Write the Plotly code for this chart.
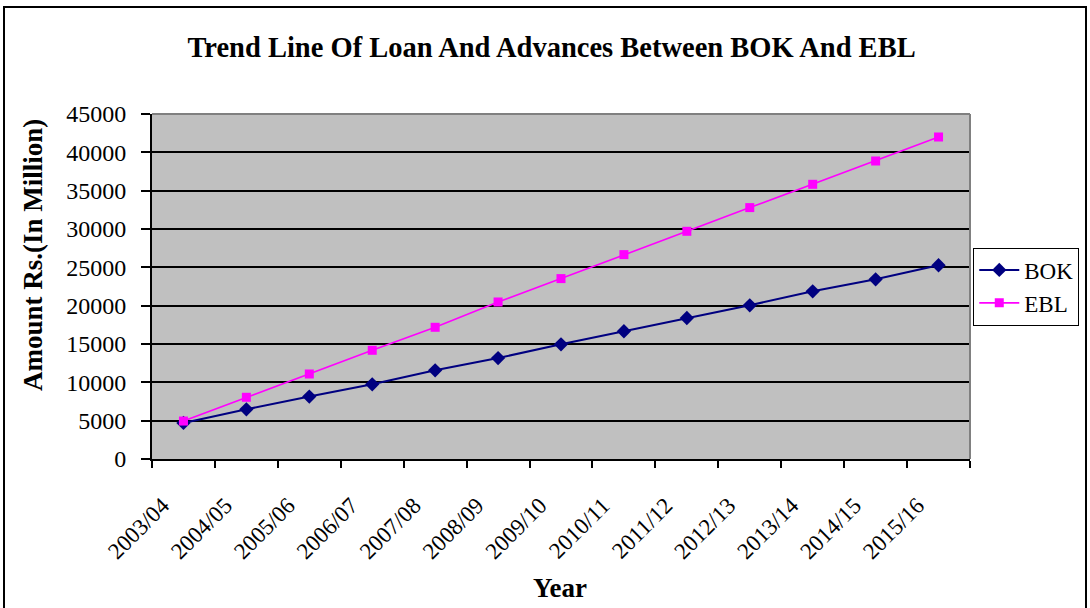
import plotly.graph_objects as go

years = ["2003/04", "2004/05", "2005/06", "2006/07", "2007/08", "2008/09", "2009/10",
         "2010/11", "2011/12", "2012/13", "2013/14", "2014/15", "2015/16"]
bok = [4700, 6480, 8140, 9740, 11570, 13170, 14960, 16660, 18390, 20050, 21870, 23440, 25270]
ebl = [4950, 8050, 11090, 14180, 17180, 20480, 23530, 26660, 29700, 32790, 35830, 38870, 42000]
y_ticks = [0, 5000, 10000, 15000, 20000, 25000, 30000, 35000, 40000, 45000]

FONT = "Liberation Serif, Times New Roman, serif"

# plot-area pixel geometry (used only for placing frame / titles)
L, R, T, B = 152, 970, 114, 459
W, H = R - L, B - T


def px(x):
    return (x - L) / W


def py(y):
    return (B - y) / H


fig = go.Figure()
fig.add_trace(go.Scatter(
    x=years, y=bok, name="BOK", mode="lines+markers",
    line=dict(color="#000080", width=2),
    marker=dict(symbol="diamond", size=11, color="#000080"),
))
fig.add_trace(go.Scatter(
    x=years, y=ebl, name="EBL", mode="lines+markers",
    line=dict(color="#FF00FF", width=1.6),
    marker=dict(symbol="square", size=9, color="#FF00FF"),
))

fig.update_layout(
    width=1090, height=608,
    margin=dict(l=L, r=1090 - R, t=T, b=608 - B, autoexpand=False),
    paper_bgcolor="white",
    plot_bgcolor="#C0C0C0",
    font=dict(family=FONT, color="black", size=22),
    title=dict(
        text="<b>Trend Line Of Loan And Advances Between BOK And EBL</b>",
        x=0.506, xanchor="center", y=0.922, yanchor="middle",
        font=dict(family=FONT, size=28.5, color="black"),
    ),
    showlegend=True,
    legend=dict(
        x=1.004, xanchor="left", y=0.50, yanchor="middle",
        bgcolor="white", bordercolor="black", borderwidth=1,
        font=dict(family=FONT, size=23, color="black"),
        tracegroupgap=0, itemwidth=40,
    ),
    xaxis=dict(
        type="category",
        range=[-0.5, len(years) - 0.5],
        tickson="boundaries",
        showgrid=False,
        showline=True, linecolor="black", linewidth=2,
        ticks="outside", ticklen=7, tickcolor="black", tickwidth=1.5,
        tickangle=-45,
        ticklabelstandoff=22, ticklabelshift=-21,
        tickfont=dict(family=FONT, size=23, color="black"),
        zeroline=False,
    ),
    yaxis=dict(
        range=[0, 45000],
        tickvals=y_ticks,
        ticktext=[str(v) for v in y_ticks],
        showgrid=True, gridcolor="black", gridwidth=1.5,
        showline=True, linecolor="black", linewidth=2,
        ticks="outside", ticklen=9, tickcolor="black", tickwidth=1.5,
        ticklabelstandoff=10,
        tickfont=dict(family=FONT, size=24, color="black"),
        zeroline=False,
    ),
    annotations=[
        dict(text="<b>Year</b>", xref="paper", yref="paper", x=px(560), y=py(588),
             xanchor="center", yanchor="middle", showarrow=False,
             font=dict(family=FONT, size=27, color="black")),
        dict(text="<b>Amount Rs.(In Million)</b>", xref="paper", yref="paper", x=px(33), y=py(255),
             xanchor="center", yanchor="middle", showarrow=False, textangle=-90,
             font=dict(family=FONT, size=27, color="black")),
    ],
    shapes=[
        dict(type="line", xref="paper", yref="paper", x0=0, x1=1, y0=1, y1=1,
             line=dict(color="#808080", width=2), layer="above"),
        dict(type="line", xref="paper", yref="paper", x0=1, x1=1, y0=0, y1=1,
             line=dict(color="#808080", width=2), layer="above"),
        dict(type="rect", xref="paper", yref="paper",
             x0=px(4), x1=px(1086), y0=py(612), y1=py(7),
             line=dict(color="black", width=2), fillcolor="rgba(0,0,0,0)", layer="above"),
    ],
)

fig.write_html("out.html", config={"displayModeBar": False},
               post_script="document.body.style.margin='0';document.body.style.overflow='hidden';")
